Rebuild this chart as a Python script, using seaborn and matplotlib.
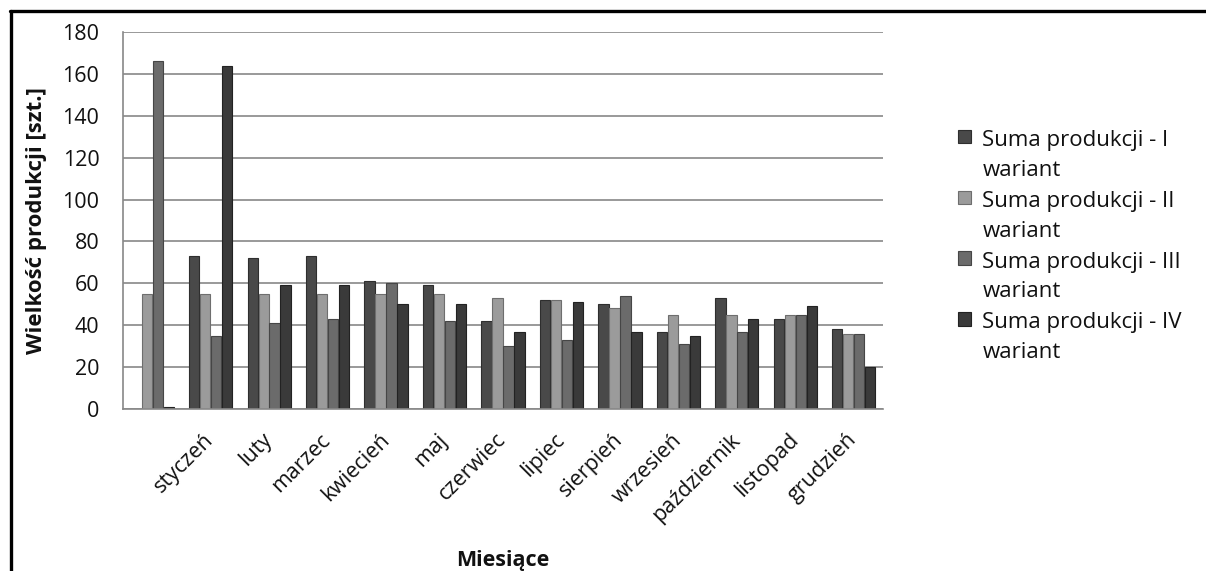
import matplotlib
matplotlib.use("Agg")
import matplotlib.pyplot as plt
from matplotlib.patches import Patch, Rectangle
from matplotlib.legend_handler import HandlerPatch
from matplotlib.lines import Line2D
import seaborn as sns
import pandas as pd

# Monthly production totals for four production variants
months = ["", "styczeń", "luty", "marzec", "kwiecień", "maj", "czerwiec",
          "lipiec", "sierpień", "wrzesień", "październik", "listopad", "grudzień"]
wariant_i = [0, 73, 72, 73, 61, 59, 42, 52, 50, 37, 53, 43, 38]
wariant_ii = [55, 55, 55, 55, 55, 55, 53, 52, 48, 45, 45, 45, 36]
wariant_iii = [166, 35, 41, 43, 60, 42, 30, 33, 54, 31, 37, 45, 36]
wariant_iv = [1, 164, 59, 59, 50, 50, 37, 51, 37, 35, 43, 49, 20]

series_names = ["Suma produkcji - I wariant", "Suma produkcji - II wariant",
                "Suma produkcji - III wariant", "Suma produkcji - IV wariant"]
legend_labels = ["Suma produkcji - I\nwariant", "Suma produkcji - II\nwariant",
                 "Suma produkcji - III\nwariant", "Suma produkcji - IV\nwariant"]
y_ticks = [0, 20, 40, 60, 80, 100, 120, 140, 160, 180]

colors = ["#494949", "#9b9b9b", "#6b6b6b", "#3a3a3a"]
edges = ["#2e2e2e", "#6e6e6e", "#464646", "#222222"]

rows = []
for name, vals in zip(series_names, [wariant_i, wariant_ii, wariant_iii, wariant_iv]):
    for m, v in zip(months, vals):
        rows.append({"Miesiąc": m, "Wartość": v, "Seria": name})
df = pd.DataFrame(rows)

sns.set_theme(style="white")
plt.rcParams["font.family"] = ["Open Sans", "DejaVu Sans"]

fig = plt.figure(figsize=(12.06, 5.71), dpi=100)
ax = fig.add_axes([123 / 1206, 1 - 409 / 571, 760 / 1206, 377 / 571])

sns.barplot(data=df, x="Miesiąc", y="Wartość", hue="Seria", order=months,
            hue_order=series_names, palette=colors, saturation=1,
            width=0.75, gap=0.06, legend=False, ax=ax, linewidth=0.8)

# darker outline per series
for container, ec in zip(ax.containers, edges):
    for bar in container:
        bar.set_edgecolor(ec)

ax.set_xlim(-0.5, len(months) - 0.5)
ax.set_ylim(0, 180)
ax.set_yticks(y_ticks)
ax.yaxis.grid(True, color="#888888", linewidth=1.2)
ax.xaxis.grid(False)
ax.set_axisbelow(True)

for side in ["top", "right"]:
    ax.spines[side].set_visible(False)
for side in ["left", "bottom"]:
    ax.spines[side].set_color("#888888")
    ax.spines[side].set_linewidth(1.2)

ax.tick_params(axis="y", which="major", direction="out", length=6, width=1.2,
               color="#888888", pad=11, labelsize=15.5, labelcolor="#111111")
ax.tick_params(axis="x", which="major", length=0, pad=20, labelsize=15.5,
               labelcolor="#111111")
for lbl in ax.get_xticklabels():
    lbl.set_rotation(45)
    lbl.set_ha("right")
    lbl.set_va("center")
    lbl.set_rotation_mode("anchor")

ax.set_xlabel("Miesiące", fontsize=15.5, fontweight="bold", color="#111111")
ax.xaxis.set_label_coords(0.5, -0.375)
ax.set_ylabel("Wielkość produkcji [szt.]", fontsize=16, fontweight="bold",
              color="#111111")
ax.yaxis.set_label_coords(-0.1, 0.5)


def top_square(legend, orig_handle, xdescent, ydescent, width, height, fontsize):
    size = 0.6 * fontsize
    y0 = -ydescent + height / 2 - size / 2 + 0.86 * fontsize
    return Rectangle((-xdescent, y0), size, size)


handles = [Patch(facecolor=c, edgecolor=e, linewidth=0.8) for c, e in zip(colors, edges)]
leg = fig.legend(handles, legend_labels, loc="upper left",
                 bbox_to_anchor=(938 / 1206, 1 - 110 / 571), frameon=False,
                 fontsize=16, handlelength=0.6, handleheight=0.6,
                 handletextpad=0.5, labelspacing=0.45,
                 handler_map={Patch: HandlerPatch(patch_func=top_square)})
for t in leg.get_texts():
    t.set_linespacing(1.55)
    t.set_color("#111111")

# outer frame lines along the top and left edge
fig.add_artist(Line2D([9.5 / 1206, 1], [1 - 11 / 571] * 2,
                      transform=fig.transFigure, color="black", linewidth=2.4))
fig.add_artist(Line2D([10.8 / 1206] * 2, [0, 1 - 11 / 571],
                      transform=fig.transFigure, color="black", linewidth=2.4))

fig.savefig("out.png", dpi=100, facecolor="white")
